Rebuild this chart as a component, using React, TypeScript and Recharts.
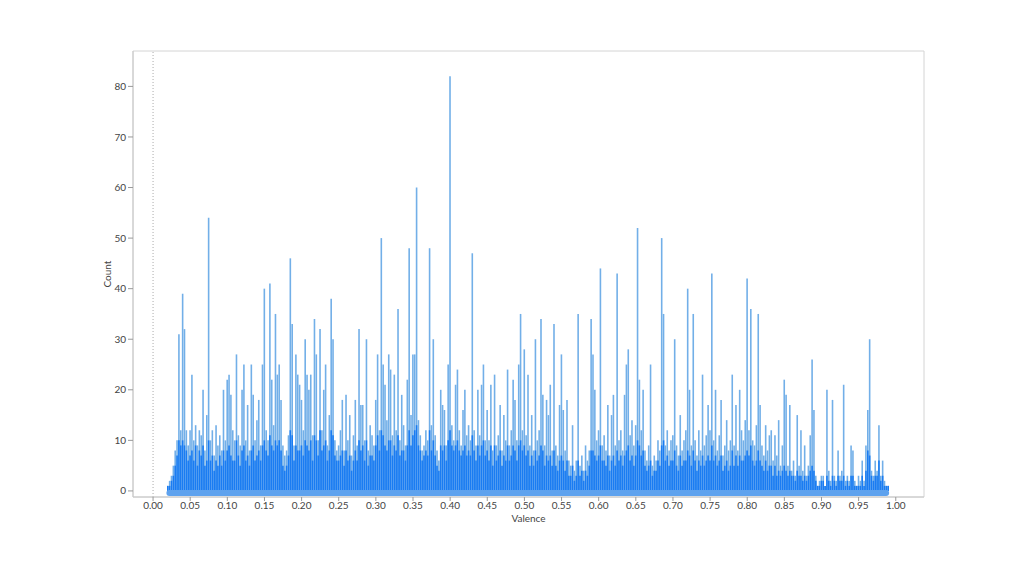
import {
  ComposedChart,
  Bar,
  XAxis,
  YAxis,
  ReferenceLine,
  ReferenceArea,
} from "recharts";

// histogram bins: 0.0025 wide, first bin at 0.020, last at 0.990
const binStart = 0.02;
const binWidth = 0.0025;

// count per bin (full height, light lines)
const counts = [
  // 0.020 - 0.0475
  1, 2, 3, 5, 8, 10, 31, 12, 39, 32, 12, 9,
  // 0.05
  12, 23, 10, 13, 9, 12, 11, 20, 8, 15, 54, 10, 12, 7, 13, 9, 11, 8, 20, 10,
  // 0.10
  22, 23, 19, 12, 10, 27, 11, 9, 20, 25, 10, 17, 8, 25, 19, 10, 14, 18, 9, 25,
  // 0.15
  40, 12, 10, 41, 22, 13, 35, 23, 25, 18, 9, 7, 8, 11, 46, 33, 9, 27, 23, 21,
  // 0.20
  18, 12, 30, 23, 20, 23, 11, 34, 27, 10, 32, 12, 20, 25, 9, 15, 38, 30, 10, 8,
  // 0.25
  9, 12, 18, 8, 19, 10, 15, 7, 11, 18, 9, 32, 17, 17, 10, 30, 8, 13, 11, 9,
  // 0.30
  18, 27, 12, 50, 25, 21, 14, 27, 24, 11, 23, 12, 36, 10, 19, 13, 9, 22, 48, 15,
  // 0.35
  27, 27, 60, 14, 11, 8, 9, 12, 10, 48, 13, 30, 11, 8, 6, 20, 17, 16, 9, 25,
  // 0.40
  82, 13, 10, 21, 24, 12, 9, 16, 20, 11, 13, 10, 47, 12, 9, 20, 11, 21, 25, 10,
  // 0.45
  16, 10, 21, 8, 23, 9, 11, 17, 8, 15, 10, 24, 9, 12, 22, 18, 10, 25, 35, 12,
  // 0.50
  28, 11, 23, 9, 15, 8, 30, 10, 12, 34, 19, 9, 18, 15, 21, 8, 33, 9, 7, 17,
  // 0.55
  27, 16, 8, 18, 6, 5, 13, 4, 6, 35, 5, 7, 4, 9, 6, 8, 34, 27, 20, 10,
  // 0.60
  12, 44, 9, 11, 8, 17, 7, 15, 19, 9, 43, 10, 12, 8, 19, 25, 28, 11, 14, 9,
  // 0.65
  13, 52, 22, 12, 20, 8, 6, 9, 25, 5, 7, 6, 10, 8, 50, 35, 9, 12, 8, 10,
  // 0.70
  11, 30, 9, 7, 15, 8, 10, 12, 40, 20, 9, 35, 10, 7, 12, 8, 23, 9, 11, 17,
  // 0.75
  12, 43, 10, 20, 8, 11, 18, 7, 9, 14, 8, 10, 23, 9, 17, 8, 20, 12, 10, 14,
  // 0.80
  42, 12, 36, 10, 9, 13, 35, 17, 9, 7, 13, 8, 11, 12, 6, 11, 7, 14, 5, 9,
  // 0.85
  22, 19, 5, 17, 4, 6, 3, 15, 5, 12, 4, 9, 3, 5, 11, 26, 16, 3, 1, 2,
  // 0.90
  3, 3, 1, 20, 4, 2, 18, 3, 2, 8, 3, 4, 21, 2, 3, 2, 9, 8, 2, 1,
  // 0.95 - 0.99
  3, 2, 6, 2, 9, 16, 30, 4, 3, 6, 4, 13, 3, 6, 2, 1, 1,
];

// darker overlapping layer near the floor
const dense = [
  1, 1, 2, 3, 5, 7, 10, 9, 10, 9, 8, 6,
  7, 8, 6, 9, 5, 8, 7, 9, 5, 6, 10, 6, 7, 4, 6, 5, 7, 5, 8, 6,
  8, 9, 7, 6, 6, 10, 7, 5, 8, 9, 6, 7, 5, 8, 9, 6, 7, 8, 6, 9,
  10, 8, 7, 11, 9, 8, 10, 9, 10, 8, 5, 4, 5, 7, 12, 11, 6, 9, 8, 8,
  9, 7, 10, 9, 8, 10, 6, 11, 10, 7, 12, 8, 9, 10, 6, 8, 12, 11, 7, 6,
  6, 7, 8, 5, 8, 6, 7, 4, 6, 8, 6, 10, 8, 9, 6, 10, 5, 7, 7, 6,
  9, 11, 8, 12, 11, 9, 8, 10, 10, 7, 9, 8, 11, 7, 8, 8, 6, 9, 12, 9,
  11, 12, 13, 9, 8, 6, 7, 8, 7, 12, 8, 10, 7, 5, 4, 9, 8, 9, 6, 10,
  12, 9, 8, 9, 10, 8, 7, 8, 9, 7, 8, 7, 11, 8, 6, 9, 7, 9, 10, 7,
  8, 6, 9, 5, 9, 6, 7, 8, 5, 7, 6, 9, 6, 7, 9, 8, 6, 9, 10, 8,
  9, 7, 8, 5, 7, 5, 8, 6, 7, 9, 8, 5, 7, 6, 7, 5, 8, 5, 4, 6,
  7, 6, 4, 6, 3, 3, 5, 2, 3, 6, 3, 4, 2, 4, 3, 5, 8, 8, 7, 6,
  7, 9, 6, 6, 5, 7, 4, 6, 7, 5, 8, 6, 7, 5, 7, 8, 9, 6, 7, 5,
  7, 10, 9, 7, 8, 5, 4, 5, 6, 3, 4, 4, 6, 5, 9, 10, 6, 7, 5, 6,
  6, 8, 5, 4, 7, 5, 6, 6, 8, 7, 5, 8, 6, 4, 6, 5, 7, 5, 6, 7,
  6, 9, 6, 7, 5, 6, 7, 4, 5, 6, 4, 5, 8, 5, 7, 5, 7, 6, 6, 7,
  8, 7, 9, 6, 5, 6, 8, 6, 5, 4, 6, 4, 5, 5, 3, 5, 3, 4, 3, 4,
  5, 4, 3, 4, 3, 3, 2, 4, 3, 3, 2, 3, 2, 3, 4, 5, 4, 2, 1, 1,
  2, 2, 1, 3, 2, 1, 3, 2, 1, 3, 2, 2, 3, 1, 2, 1, 3, 3, 1, 1,
  1, 1, 3, 1, 4, 8, 7, 3, 2, 3, 3, 6, 2, 3, 1, 1, 1,
];

// thick band along the floor (valence range of the data)
const baseSpan = [0.022, 0.987];

const xTicks = [
  0, 0.05, 0.1, 0.15, 0.2, 0.25, 0.3, 0.35, 0.4, 0.45, 0.5, 0.55, 0.6, 0.65,
  0.7, 0.75, 0.8, 0.85, 0.9, 0.95, 1,
];
const yTicks = [0, 10, 20, 30, 40, 50, 60, 70, 80];

const xDomain: [number, number] = [-0.027, 1.038];
const yDomain: [number, number] = [-1.2, 87];

const data = counts.map((c, i) => ({
  valence: Math.round((binStart + i * binWidth) * 10000) / 10000,
  count: c,
  dense: dense[i] ?? 0,
}));

const tickStyle = { fontSize: 10, fill: "#444", fontFamily: "Lato, sans-serif" };

const App = () => {
  return (
    <div
      style={{
        position: "absolute",
        left: 0,
        top: 0,
        width: 1024,
        height: 576,
        background: "#fff",
        fontFamily: "Lato, sans-serif",
      }}
    >
      <ComposedChart
        width={1024}
        height={576}
        data={data}
        margin={{ top: 51, right: 100, bottom: 49, left: 93 }}
      >
        <XAxis
          xAxisId="main"
          dataKey="valence"
          type="number"
          domain={xDomain}
          ticks={xTicks}
          allowDataOverflow
          tickFormatter={(v: number) => v.toFixed(2)}
          tick={tickStyle}
          tickSize={4}
          tickMargin={1}
          height={30}
          stroke="#c8c8c8"
          tickLine={{ stroke: "#999" }}
          interval={0}
          label={{
            value: "Valence",
            position: "insideBottom",
            offset: 5,
            style: { fontSize: 10, fill: "#444", fontFamily: "Lato, sans-serif" },
          }}
        />
        {/* second axis only so the dark layer sits on top of the light one */}
        <XAxis
          xAxisId="dense"
          dataKey="valence"
          type="number"
          domain={xDomain}
          allowDataOverflow
          height={0}
          hide
        />
        <YAxis
          type="number"
          domain={yDomain}
          ticks={yTicks}
          allowDataOverflow
          width={40}
          tick={tickStyle}
          tickSize={5}
          stroke="#c8c8c8"
          tickLine={{ stroke: "#999" }}
          interval={0}
          label={{
            value: "Count",
            angle: -90,
            position: "center",
            dx: -6,
            style: { fontSize: 10, fill: "#444", fontFamily: "Lato, sans-serif", textAnchor: "middle" },
          }}
        />
        <ReferenceArea
          xAxisId="main"
          x1={xDomain[0]}
          x2={xDomain[1]}
          y1={yDomain[0]}
          y2={yDomain[1]}
          fill="none"
          stroke="#d4d4d4"
          ifOverflow="visible"
        />
        <Bar
          xAxisId="main"
          dataKey="count"
          fill="#72afe8"
          barSize={1.6}
          isAnimationActive={false}
        />
        <Bar
          xAxisId="dense"
          dataKey="dense"
          fill="#1a7cf2"
          barSize={1.6}
          isAnimationActive={false}
        />
        <ReferenceLine
          xAxisId="main"
          segment={[
            { x: baseSpan[0], y: -0.4 },
            { x: baseSpan[1], y: -0.4 },
          ]}
          stroke="#5ea2ee"
          strokeWidth={6}
          strokeLinecap="round"
        />
        <ReferenceLine
          xAxisId="main"
          x={0}
          stroke="#aaa"
          strokeDasharray="1 2"
        />
      </ComposedChart>
    </div>
  );
};

export default App;
